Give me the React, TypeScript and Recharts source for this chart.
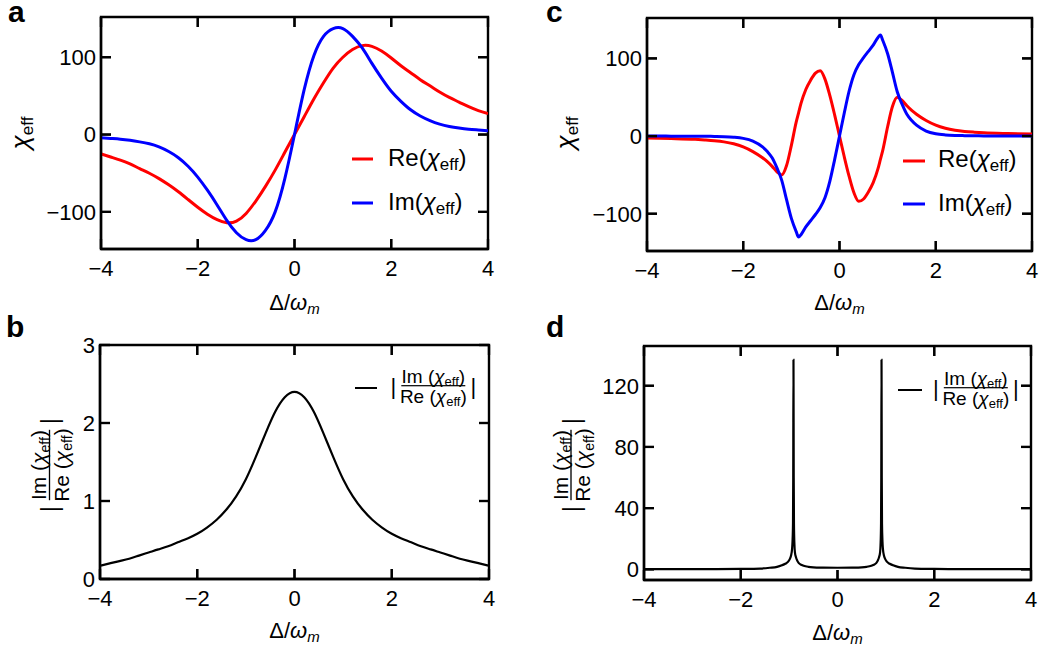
import React from 'react';
import { LineChart, Line, XAxis, YAxis, ReferenceArea, ReferenceLine } from 'recharts';

const FONT = '"Liberation Sans", Arial, Helvetica, sans-serif';
const W = 1041;
const H = 652;

// ---------- Panel a / b (shared detuning grid) ----------
const xA = [-4, -3.8, -3.6, -3.4, -3.2, -3, -2.8, -2.6, -2.4, -2.2, -2, -1.8, -1.6, -1.4, -1.2, -1, -0.8, -0.6, -0.4, -0.2, 0,
  0.2, 0.4, 0.6, 0.8, 1, 1.2, 1.4, 1.6, 1.8, 2, 2.2, 2.4, 2.6, 2.8, 3, 3.2, 3.4, 3.6, 3.8, 4];
const reA = [-25, -29, -33, -38, -44, -50, -57, -65, -74, -84, -94, -103, -110, -114, -112, -102, -86, -67, -46, -23, 0,
  23, 46, 67, 86, 100, 110, 115, 114, 108, 99, 89, 80, 71, 63, 55, 48, 42, 36, 31, 27];
const imA = [-4, -5, -6, -7.5, -9.5, -12, -16, -22, -30, -41, -55, -72, -91, -111, -127, -136, -136, -124, -100, -57, 0,
  58, 102, 127, 137, 137, 127, 112, 92, 73, 56, 43, 32, 24, 18, 13.5, 10.5, 8.5, 7, 6, 5];
const ratioB = [0.17, 0.2, 0.23, 0.26, 0.3, 0.34, 0.38, 0.42, 0.47, 0.52, 0.58, 0.66, 0.76, 0.89, 1.06, 1.28, 1.56, 1.86, 2.14, 2.33, 2.4,
  2.33, 2.14, 1.86, 1.56, 1.28, 1.06, 0.89, 0.76, 0.66, 0.58, 0.52, 0.47, 0.42, 0.38, 0.34, 0.3, 0.26, 0.23, 0.2, 0.17];

// ---------- Panel c ----------
const xC = [-4, -3.5, -3, -2.8, -2.6, -2.4, -2.2, -2, -1.8, -1.6, -1.5, -1.4, -1.3, -1.2, -1.1, -1, -0.9, -0.85, -0.8, -0.7, -0.6, -0.5, -0.4, -0.3, -0.2, -0.1, 0,
  0.1, 0.2, 0.3, 0.4, 0.5, 0.6, 0.7, 0.8, 0.85, 0.9, 1, 1.1, 1.2, 1.3, 1.4, 1.5, 1.6, 1.8, 2, 2.2, 2.4, 2.6, 2.8, 3, 3.5, 4];
const reC = [-2.6, -3.2, -4.2, -5, -6, -7.5, -10, -14, -20, -28, -33, -39, -46, -50, -38, -12, 18, 30, 42, 60, 72, 81, 84, 73, 52, 27, 0,
  -27, -52, -73, -84, -81, -72, -60, -42, -30, -18, 12, 38, 50, 46, 39, 33, 28, 20, 14, 10, 7.5, 6, 5, 4.2, 3.2, 2.6];
const imC = [-0.05, -0.1, -0.2, -0.3, -0.5, -0.8, -1.5, -3, -6.5, -14, -20, -28, -41, -57, -82, -106, -123, -130, -127, -117, -109, -101, -92, -79, -58, -30, 0,
  30, 58, 79, 92, 101, 109, 117, 127, 130, 123, 106, 82, 57, 41, 28, 20, 14, 6.5, 3, 1.5, 0.8, 0.5, 0.3, 0.2, 0.1, 0.05];

// ---------- Panel d ----------
const xD = [-4, -3, -2.5, -2, -1.6, -1.4, -1.25, -1.15, -1.08, -1.02, -0.99, -0.96, -0.94, -0.93, -0.92, -0.915, -0.91, -0.905, -0.9, -0.89, -0.88, -0.86, -0.83, -0.8, -0.75, -0.7, -0.6, -0.5, -0.3, 0,
  0.3, 0.5, 0.6, 0.7, 0.75, 0.8, 0.83, 0.86, 0.88, 0.89, 0.9, 0.905, 0.91, 0.915, 0.92, 0.93, 0.94, 0.96, 0.99, 1.02, 1.08, 1.15, 1.25, 1.4, 1.6, 2, 2.5, 3, 4];
const ratioD = [0.05, 0.07, 0.12, 0.25, 0.5, 1.0, 1.6, 2.6, 3.6, 5, 6.5, 9, 13, 18, 30, 60, 137, 60, 30, 16, 11, 8, 5.5, 4, 3, 2.3, 1.6, 1.3, 1.1, 1.0,
  1.1, 1.3, 1.6, 2.3, 3, 4, 5.5, 8, 11, 16, 30, 60, 137, 60, 30, 18, 13, 9, 6.5, 5, 3.6, 2.6, 1.6, 1.0, 0.5, 0.25, 0.12, 0.07, 0.05];

const xTicks = [-4, -2, 0, 2, 4];
const yTicksAC = [-100, 0, 100];
const yTicksB = [0, 1, 2, 3];
const yTicksD = [0, 40, 80, 120];

const dataA = xA.map((x, i) => ({ x, re: reA[i], im: imA[i] }));
const dataB = xA.map((x, i) => ({ x, r: ratioB[i] }));
const dataC = xC.map((x, i) => ({ x, re: reC[i], im: imC[i] }));
const dataD = xD.map((x, i) => ({ x, r: ratioD[i] }));

const fmt = (v: number) => (v < 0 ? '\u2212' + Math.abs(v) : String(v));
const TL = 10; // inward tick length, px
const TW = 2.2; // tick thickness, px
const BLACK_LINE = { stroke: '#000', strokeWidth: TW };
const FRAME_LINE = { stroke: '#000', strokeWidth: 2.4 };

// x is the tick position, y the frame bottom (tickSize -10 with tickMargin 10)
function XTick(props: any) {
  const { x, y, payload, plotTop } = props;
  return (
    <g>
      <rect x={x - TW / 2} y={y - TL} width={TW} height={TL} fill="#000" />
      <rect x={x - TW / 2} y={plotTop} width={TW} height={TL} fill="#000" />
      <text x={x} y={y + 27} textAnchor="middle" fontSize={22} fontFamily={FONT} fill="#000">
        {fmt(payload.value)}
      </text>
    </g>
  );
}

// x is the frame's left edge, y the tick position
function YTick(props: any) {
  const { x, y, payload, plotRight } = props;
  return (
    <g>
      <rect x={x} y={y - TW / 2} width={TL} height={TW} fill="#000" />
      <rect x={plotRight - TL} y={y - TW / 2} width={TL} height={TW} fill="#000" />
      <text x={x - 5} y={y} dy="0.36em" textAnchor="end" fontSize={22} fontFamily={FONT} fill="#000">
        {fmt(payload.value)}
      </text>
    </g>
  );
}

function XTitle(props: any) {
  const { tx, ty } = props;
  return (
    <text x={tx} y={ty} textAnchor="middle" fontSize={22} fontFamily={FONT} fill="#000">
      Δ/<tspan fontStyle="italic">ω</tspan>
      <tspan fontStyle="italic" fontSize={15} dy={4}>m</tspan>
    </text>
  );
}

function ChiTitle(props: any) {
  const { tx, ty } = props;
  return (
    <text x={tx} y={ty} transform={`rotate(-90, ${tx}, ${ty})`} textAnchor="middle" fontSize={26} fontFamily={FONT} fill="#000">
      <tspan fontStyle="italic">χ</tspan>
      <tspan fontSize={17} dy={4}>eff</tspan>
    </text>
  );
}

function ChiText({ x, y, prefix }: { x: number; y: number; prefix: string }) {
  return (
    <text x={x} y={y} fontSize={24} fontFamily={FONT} fill="#000">
      {prefix}(<tspan fontStyle="italic">χ</tspan>
      <tspan fontSize={17} dy={4}>eff</tspan>
      <tspan dy={-4}>)</tspan>
    </text>
  );
}

function Frac({ cx, cy, rotate, scale }: { cx: number; cy: number; rotate?: boolean; scale?: number }) {
  const s = scale || 1;
  const part = (p: string, y: number) => (
    <text x={0} y={y} textAnchor="middle" fontSize={19} fontFamily={FONT} fill="#000">
      {p} (<tspan fontStyle="italic">χ</tspan>
      <tspan fontSize={13} dy={3}>eff</tspan>
      <tspan dy={-3}>)</tspan>
    </text>
  );
  return (
    <g transform={`translate(${cx},${cy})${rotate ? ' rotate(-90)' : ''} scale(${s})`}>
      {part('Im', -3)}
      <rect x={-32} y={-0.6} width={64} height={1.2} fill="#000" />
      {part('Re', 17.5)}
      <text x={-40} y={8} textAnchor="middle" fontSize={22} fontFamily={FONT} fill="#000">|</text>
      <text x={40} y={8} textAnchor="middle" fontSize={22} fontFamily={FONT} fill="#000">|</text>
    </g>
  );
}

const Letter = ({ x, y, t }: { x: number; y: number; t: string }) => (
  <text x={x} y={y} fontSize={30} fontWeight="bold" fontFamily={FONT} fill="#000">{t}</text>
);

// legends and panel letters, in page px
function Annotations() {
  return (
    <svg width={W} height={H} style={{ position: 'absolute', left: 0, top: 0, pointerEvents: 'none' }}>
      <Letter x={8} y={22} t="a" />
      <Letter x={6} y={337} t="b" />
      <Letter x={546} y={22} t="c" />
      <Letter x={546} y={337} t="d" />
      <rect x={352} y={157.5} width={21} height={3} fill="#ff0000" />
      <ChiText x={388} y={166} prefix="Re" />
      <rect x={352} y={201.5} width={21} height={3} fill="#0000ff" />
      <ChiText x={388} y={210} prefix="Im" />
      <rect x={903} y={159.5} width={22} height={3} fill="#ff0000" />
      <ChiText x={938} y={167} prefix="Re" />
      <rect x={903} y={202.5} width={22} height={3} fill="#0000ff" />
      <ChiText x={938} y={211} prefix="Im" />
      <rect x={355} y={387} width={22} height={2} fill="#000" />
      <Frac cx={433.3} cy={385.7} />
      <rect x={898} y={389} width={24} height={2} fill="#000" />
      <Frac cx={975.8} cy={387.7} />
    </svg>
  );
}

type PanelProps = {
  data: any[];
  ox: number; oy: number; w: number; h: number;
  L: number; T: number; R: number; B: number; // frame edges in page px
  yDomain: [number, number];
  yTicks: number[];
  xTitle: any;
  yTitle: any;
  children: any;
};

function Panel({ data, ox, oy, w, h, L, T, R, B, yDomain, yTicks, xTitle, yTitle, children }: PanelProps) {
  const l = L - ox, t = T - oy, r = R - ox, b = B - oy;
  // 10 px expressed in data units, for the mirrored (top / right) ticks
  const dY = ((yDomain[1] - yDomain[0]) * TL) / (b - t);
  const dX = (8 * TL) / (r - l);
  return (
    <div style={{ position: 'absolute', left: ox, top: oy, width: w, height: h }}>
      <LineChart width={w} height={h} data={data} margin={{ top: t, right: w - r, bottom: h - b - 60, left: l - 60 }}>
        <XAxis
          dataKey="x" type="number" domain={[-4, 4]} ticks={xTicks} allowDataOverflow
          height={60} tickSize={-10} tickMargin={10} axisLine={FRAME_LINE} tickLine={BLACK_LINE}
          tick={<XTick plotTop={t} />} label={xTitle}
        />
        <YAxis
          type="number" domain={yDomain} ticks={yTicks} allowDataOverflow
          width={60} tickSize={-10} tickMargin={10} axisLine={FRAME_LINE} tickLine={BLACK_LINE}
          tick={<YTick plotRight={r} />} label={yTitle}
        />
        {children}
        {xTicks.map((v) => (
          <ReferenceLine key={`xt${v}`} segment={[{ x: v, y: yDomain[1] }, { x: v, y: yDomain[1] - dY }]} stroke="#000" strokeWidth={TW} />
        ))}
        {yTicks.map((v) => (
          <ReferenceLine key={`yr${v}`} segment={[{ x: 4, y: v }, { x: 4 - dX, y: v }]} stroke="#000" strokeWidth={TW} />
        ))}
        <ReferenceArea x1={-4} x2={4} y1={yDomain[0]} y2={yDomain[1]} fill="none" stroke="#000" strokeWidth={2.4} ifOverflow="visible" />
      </LineChart>
    </div>
  );
}

export default function App() {
  return (
    <div style={{ position: 'absolute', left: 0, top: 0, width: W, height: H, background: '#fff', overflow: 'hidden' }}>
      <Panel data={dataA} ox={0} oy={0} w={520} h={326} L={101} T={17} R={488} B={249} yDomain={[-148, 152]} yTicks={yTicksAC}
        xTitle={<XTitle tx={294.5} ty={310} />} yTitle={<ChiTitle tx={29} ty={133} />}>
        <Line type="natural" dataKey="re" stroke="#ff0000" strokeWidth={3} dot={false} isAnimationActive={false} />
        <Line type="natural" dataKey="im" stroke="#0000ff" strokeWidth={3} dot={false} isAnimationActive={false} />
      </Panel>
      <Panel data={dataB} ox={0} oy={326} w={520} h={326} L={100} T={345} R={489} B={579} yDomain={[0, 3]} yTicks={yTicksB}
        xTitle={<XTitle tx={294.5} ty={312} />} yTitle={<Frac cx={49.5} cy={139} rotate scale={1.1} />}>
        <Line type="natural" dataKey="r" stroke="#000" strokeWidth={2.2} dot={false} isAnimationActive={false} />
      </Panel>
      <Panel data={dataC} ox={520} oy={0} w={521} h={326} L={647} T={18} R={1032} B={251} yDomain={[-148, 152]} yTicks={yTicksAC}
        xTitle={<XTitle tx={319.5} ty={310} />} yTitle={<ChiTitle tx={54} ty={133} />}>
        <Line type="monotone" dataKey="re" stroke="#ff0000" strokeWidth={3} dot={false} isAnimationActive={false} />
        <Line type="monotone" dataKey="im" stroke="#0000ff" strokeWidth={3} dot={false} isAnimationActive={false} />
      </Panel>
      <Panel data={dataD} ox={520} oy={326} w={521} h={326} L={644} T={346} R={1031} B={580} yDomain={[-7, 146]} yTicks={yTicksD}
        xTitle={<XTitle tx={317.5} ty={314} />} yTitle={<Frac cx={51} cy={139} rotate scale={1.1} />}>
        <Line type="monotone" dataKey="r" stroke="#000" strokeWidth={2.2} dot={false} isAnimationActive={false} />
      </Panel>
      <Annotations />
    </div>
  );
}
